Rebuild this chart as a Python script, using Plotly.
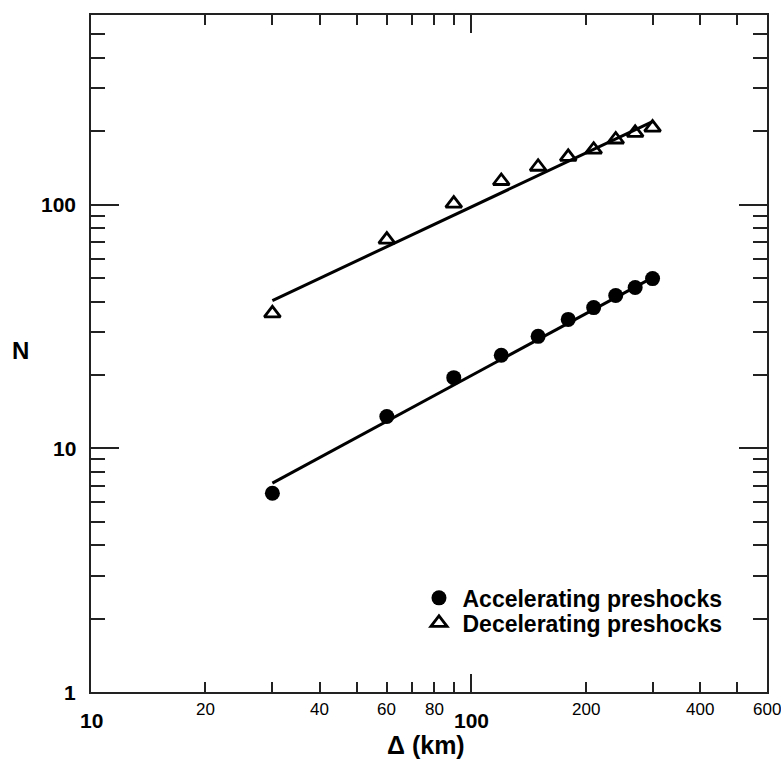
import numpy as np
import plotly.graph_objects as go

# ---- data ----
delta_km = [30, 60, 90, 120, 150, 180, 210, 240, 270, 300]
accelerating_N = [6.54, 13.5, 19.5, 24.1, 28.8, 33.8, 37.8, 42.4, 45.7, 49.7]
decelerating_N = [35.8, 71.9, 101, 125, 143, 157, 168, 185, 197, 207]

fit_delta = [30, 300]
accelerating_fit = [7.2, 50.2]
decelerating_fit = [40.4, 219]

x_major_ticks = [10, 100]
x_minor_ticks = [20, 30, 40, 50, 60, 70, 80, 90, 200, 300, 400, 500, 600]
x_major_labels = ["10", "100"]
x_minor_label_vals = [20, 40, 60, 80, 200, 400, 600]
x_minor_labels = ["20", "40", "60", "80", "200", "400", "600"]

y_major_ticks = [1, 10, 100]
y_minor_ticks = [2, 3, 4, 5, 6, 7, 8, 9, 20, 30, 40, 50, 60, 70, 80, 90, 200, 300, 400, 500, 600]
y_major_labels = ["1", "10", "100"]

FONT = "Liberation Sans, Arial, sans-serif"
NARROW = "Liberation Sans Narrow, Arial Narrow, Liberation Sans, Arial, sans-serif"

fig = go.Figure()

fig.add_trace(go.Scatter(x=fit_delta, y=accelerating_fit, mode="lines",
                         line=dict(color="black", width=3), showlegend=False,
                         hoverinfo="skip"))
fig.add_trace(go.Scatter(x=fit_delta, y=decelerating_fit, mode="lines",
                         line=dict(color="black", width=3), showlegend=False,
                         hoverinfo="skip"))
fig.add_trace(go.Scatter(x=delta_km, y=accelerating_N, mode="markers",
                         name="<b>Accelerating preshocks</b>",
                         marker=dict(symbol="circle", size=15, color="black",
                                     line=dict(width=0)),
                         legend="legend"))
fig.add_trace(go.Scatter(x=delta_km, y=decelerating_N, mode="markers",
                         name="<b>Decelerating preshocks</b>",
                         marker=dict(symbol="triangle-up-open", size=14, color="black",
                                     line=dict(width=2.8, color="black")),
                         legend="legend2"))

axis_common = dict(type="log", showline=True, linecolor="#222", linewidth=2,
                   mirror="ticks", showgrid=False, zeroline=False,
                   ticks="inside", tickcolor="#222", tickwidth=1.6,
                   showticklabels=False, tickmode="array")

fig.update_xaxes(range=[1, np.log10(600)], tickvals=x_major_ticks, ticklen=18,
                 minor=dict(tickmode="array", tickvals=x_minor_ticks, ticks="inside",
                            ticklen=10, tickwidth=1.6, tickcolor="#222", showgrid=False),
                 **axis_common)
fig.update_yaxes(range=[0, np.log10(600)], tickvals=y_major_ticks, ticklen=28,
                 minor=dict(tickmode="array", tickvals=y_minor_ticks, ticks="inside",
                            ticklen=14, tickwidth=1.6, tickcolor="#222", showgrid=False),
                 **axis_common)

annotations = []
for v, t in zip(x_minor_label_vals, x_minor_labels):
    annotations.append(dict(x=np.log10(v), xref="x", y=0, yref="paper",
                            text=t, showarrow=False, yanchor="top", xanchor="center",
                            yshift=-6, font=dict(family=NARROW, size=17, color="black")))
for v, t in zip(x_major_ticks, x_major_labels):
    annotations.append(dict(x=np.log10(v), xref="x", y=0, yref="paper",
                            text="<b>" + t + "</b>", showarrow=False, yanchor="top",
                            xanchor="center", yshift=-15,
                            font=dict(family=FONT, size=21, color="black")))
for v, t in zip(y_major_ticks, y_major_labels):
    annotations.append(dict(x=0, xref="paper", y=np.log10(v), yref="y",
                            text="<b>" + t + "</b>", showarrow=False, yanchor="middle",
                            xanchor="right", xshift=-13,
                            font=dict(family=FONT, size=21, color="black")))
annotations.append(dict(x=-0.105, xref="paper", y=0.505, yref="paper", text="<b>N</b>",
                        showarrow=False, xanchor="center", yanchor="middle",
                        font=dict(family=FONT, size=24, color="black")))
annotations.append(dict(x=0.495, xref="paper", y=-0.078, yref="paper",
                        text="<b>Δ (km)</b>", showarrow=False, xanchor="center",
                        yanchor="middle", font=dict(family=FONT, size=25, color="black")))

legend_common = dict(xanchor="left", yanchor="middle", bgcolor="rgba(0,0,0,0)",
                     borderwidth=0, font=dict(family=FONT, size=23, color="black"),
                     itemclick=False, itemwidth=37)

fig.update_layout(
    width=781, height=764,
    margin=dict(l=91, r=14, t=15, b=72),
    paper_bgcolor="white", plot_bgcolor="white",
    annotations=annotations,
    legend=dict(x=0.48, y=0.139, **legend_common),
    legend2=dict(x=0.48, y=0.102, **legend_common),
)

# remove the default 8px page margin so the figure sits at the window origin
fig.write_html("out.html",
               config={"displayModeBar": False},
               post_script="document.body.style.margin='0px';"
                           "document.documentElement.style.overflow='hidden';")
